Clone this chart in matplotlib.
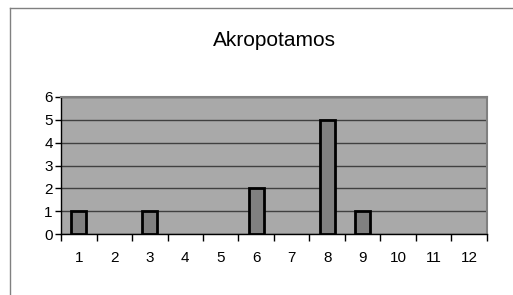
import numpy as np
import matplotlib.pyplot as plt

plt.rcParams['font.family'] = ['Liberation Sans', 'DejaVu Sans']

categories = ['1', '2', '3', '4', '5', '6', '7', '8', '9', '10', '11', '12']
counts = [1, 0, 1, 0, 0, 2, 0, 5, 1, 0, 0, 0]
title = "Akropotamos"


def main():
    fig = plt.figure(figsize=(5.13, 2.95), dpi=100)
    W, H = 513, 295

    # outer chart border (Excel style)
    fig.add_artist(plt.Line2D([10 / W, 1.0], [1 - 8 / H, 1 - 8 / H], color='#808080', lw=1))
    fig.add_artist(plt.Line2D([10 / W, 10 / W], [0, 1 - 8 / H], color='#808080', lw=1))

    ax = fig.add_axes([61 / W, 1 - 234 / H, (487 - 61) / W, (234 - 97) / H])
    x = np.arange(len(categories))
    ax.set_facecolor('#A9A9A9')
    ax.set_axisbelow(True)
    ax.yaxis.grid(True, color='#404040', lw=1)
    # zero-height bars leave no visible outline in the original
    edges = ['black' if c > 0 else 'none' for c in counts]
    ax.bar(x, counts, width=0.42, color='#808080', edgecolor=edges, lw=2, zorder=3)

    ax.set_xlim(-0.5, len(categories) - 0.5)
    ax.set_ylim(0, 6)
    ax.set_yticks(range(0, 7))
    ax.set_xticks(x)
    ax.set_xticklabels(categories)
    ax.set_xticks(np.arange(-0.5, len(categories)), minor=True)
    ax.tick_params(axis='x', which='major', length=0, labelsize=11, pad=12)
    ax.tick_params(axis='x', which='minor', length=5, width=1, color='black')
    ax.tick_params(axis='y', length=4, width=1, labelsize=11, pad=2)

    for s in ['top', 'right']:
        ax.spines[s].set_color('#808080')
        ax.spines[s].set_linewidth(1.5)
    for s in ['left', 'bottom']:
        ax.spines[s].set_color('black')
        ax.spines[s].set_linewidth(1)

    fig.text((61 + 487) / 2 / W, 1 - 41 / H, title, ha='center', va='center', fontsize=15)

    fig.savefig("out.png", dpi=100)


if __name__ == "__main__":
    main()
